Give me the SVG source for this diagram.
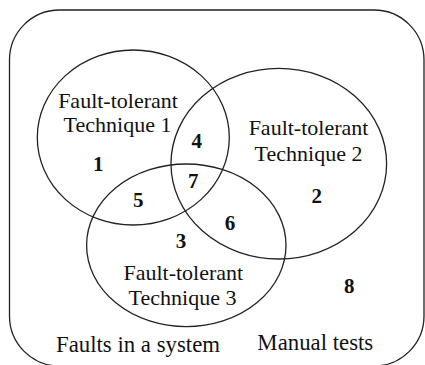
<svg xmlns="http://www.w3.org/2000/svg" width="425" height="365" viewBox="0 0 425 365">
<style>
.shape{fill:none;stroke:#222;stroke-width:1.3}
.lbl{font-family:"Liberation Serif","Times New Roman",serif;font-size:22px;fill:#111;text-anchor:middle}
.big{font-size:22.8px}
.num{font-family:"Liberation Serif","Times New Roman",serif;font-size:21px;font-weight:bold;fill:#111;text-anchor:middle}
</style>
<rect x="0" y="0" width="425" height="365" fill="#fff"/>
<g id="universe">
<rect class="shape" x="9.5" y="10" width="414.5" height="356" rx="50" ry="50"/>
<text class="lbl big" x="138" y="352">Faults in a system</text>
<text class="lbl big" x="315.3" y="350">Manual tests</text>
<text class="num" x="349.3" y="293">8</text>
</g>
<g id="technique1">
<ellipse class="shape" cx="133.3" cy="137.5" rx="96" ry="87.5"/>
<text class="lbl" x="118" y="107.5">Fault-tolerant</text>
<text class="lbl" x="117.5" y="131.5">Technique 1</text>
</g>
<g id="technique2">
<ellipse class="shape" cx="278.8" cy="163.7" rx="107.8" ry="95.3"/>
<text class="lbl" x="308.5" y="135">Fault-tolerant</text>
<text class="lbl" x="308.5" y="160.5">Technique 2</text>
</g>
<g id="technique3">
<ellipse class="shape" cx="186.3" cy="245.3" rx="99.7" ry="81.3"/>
<text class="lbl" x="183.3" y="280">Fault-tolerant</text>
<text class="lbl" x="182.5" y="304.5">Technique 3</text>
</g>
<g id="regions">
<text class="num" x="98.3" y="170.5">1</text>
<text class="num" x="316.7" y="203">2</text>
<text class="num" x="181" y="248">3</text>
<text class="num" x="196.7" y="147.5">4</text>
<text class="num" x="138.3" y="207.3">5</text>
<text class="num" x="230" y="230">6</text>
<text class="num" x="193.3" y="187.5">7</text>
</g>
<g id="connectors"></g>
</svg>
